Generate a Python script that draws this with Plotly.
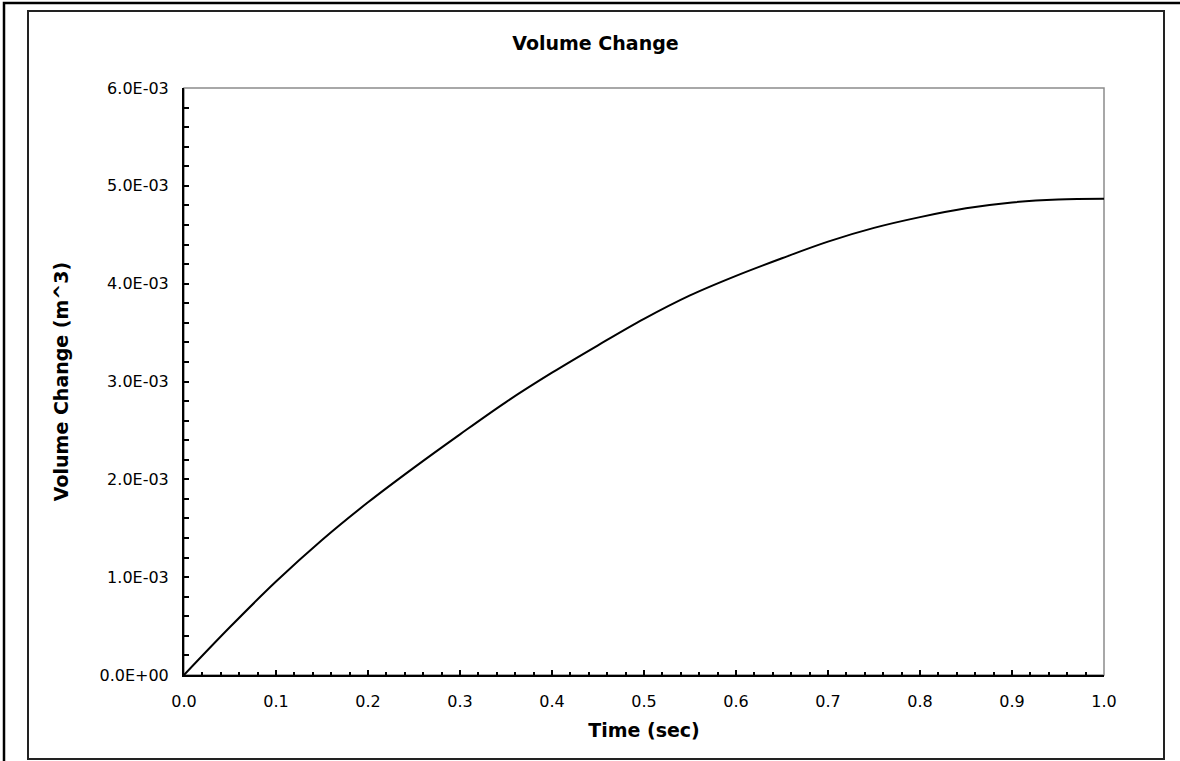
import plotly.graph_objects as go

# ---- data ----
time_s = [0.0, 0.05, 0.10, 0.15, 0.20, 0.25, 0.30, 0.35, 0.40, 0.45, 0.50,
          0.55, 0.60, 0.65, 0.70, 0.75, 0.80, 0.85, 0.90, 0.95, 1.00]
volume_m3 = [0.0, 0.49e-3, 0.955e-3, 1.38e-3, 1.765e-3, 2.12e-3, 2.46e-3, 2.79e-3,
             3.09e-3, 3.37e-3, 3.64e-3, 3.88e-3, 4.08e-3, 4.26e-3, 4.43e-3, 4.57e-3,
             4.68e-3, 4.77e-3, 4.83e-3, 4.86e-3, 4.867e-3]

y_tick_vals = [0.0, 1.0e-3, 2.0e-3, 3.0e-3, 4.0e-3, 5.0e-3, 6.0e-3]
y_tick_text = ["0.0E+00", "1.0E-03", "2.0E-03", "3.0E-03", "4.0E-03", "5.0E-03", "6.0E-03"]
x_tick_vals = [0.0, 0.1, 0.2, 0.3, 0.4, 0.5, 0.6, 0.7, 0.8, 0.9, 1.0]
x_tick_text = ["0.0", "0.1", "0.2", "0.3", "0.4", "0.5", "0.6", "0.7", "0.8", "0.9", "1.0"]

FONT = "DejaVu Sans, Verdana, sans-serif"

fig = go.Figure()
fig.add_trace(go.Scatter(
    x=time_s, y=volume_m3, mode="lines",
    line=dict(color="black", width=2, shape="spline"),
    showlegend=False, hoverinfo="x+y",
))

W, H = 1180, 761
L, R, T, B = 184, 76, 88, 86
pw, ph = W - L - R, H - T - B


def px_x(px):
    return (px - L) / pw


def px_y(py):
    return (H - B - py) / ph


shapes = [
    # plot-area border (gray top/right)
    dict(type="rect", xref="paper", yref="paper", x0=0, y0=0, x1=1, y1=1,
         line=dict(color="#8c8c8c", width=1.5), layer="below"),
    # inner chart frame
    dict(type="rect", xref="paper", yref="paper",
         x0=px_x(28), y0=px_y(759), x1=px_x(1164), y1=px_y(11),
         line=dict(color="#222222", width=2)),
    # outer frame (partially outside the image)
    dict(type="rect", xref="paper", yref="paper",
         x0=px_x(4), y0=px_y(800), x1=px_x(1230), y1=px_y(3),
         line=dict(color="black", width=2.5)),
]

fig.update_layout(
    width=W, height=H,
    margin=dict(l=L, r=R, t=T, b=B),
    paper_bgcolor="white", plot_bgcolor="white",
    font=dict(family=FONT, color="black", size=16),
    title=dict(text="<b>Volume Change</b>", x=(512 + 679) / 2 / W, xanchor="center",
               y=1 - 43 / H, yanchor="middle", yref="container",
               font=dict(family=FONT, size=19, color="black")),
    shapes=shapes,
)

fig.update_xaxes(
    range=[0, 1], tickvals=x_tick_vals, ticktext=x_tick_text,
    showgrid=False, zeroline=False,
    showline=True, linecolor="black", linewidth=2,
    ticks="inside", ticklen=5, tickwidth=1.5, tickcolor="black",
    minor=dict(dtick=0.02, ticks="inside", ticklen=3, tickwidth=1.5, tickcolor="black", showgrid=False),
    tickfont=dict(family=FONT, size=16, color="black"),
    ticklabelstandoff=11,
    title=dict(text="<b>Time (sec)</b>", font=dict(family=FONT, size=19, color="black"), standoff=13),
)

fig.update_yaxes(
    range=[0, 6.0e-3], tickvals=y_tick_vals, ticktext=y_tick_text,
    showgrid=False, zeroline=False,
    showline=True, linecolor="black", linewidth=2,
    ticks="inside", ticklen=5, tickwidth=1.5, tickcolor="black",
    minor=dict(dtick=0.2e-3, ticks="inside", ticklen=5, tickwidth=1.5, tickcolor="black", showgrid=False),
    tickfont=dict(family=FONT, size=16, color="black"),
    ticklabelstandoff=10,
    title=dict(text="<b>Volume Change (m^3)</b>", font=dict(family=FONT, size=19, color="black"), standoff=26),
)

fig.write_html(
    "out.html",
    config={"displayModeBar": False},
    post_script="document.body.style.margin='0';document.body.style.overflow='hidden';",
)
